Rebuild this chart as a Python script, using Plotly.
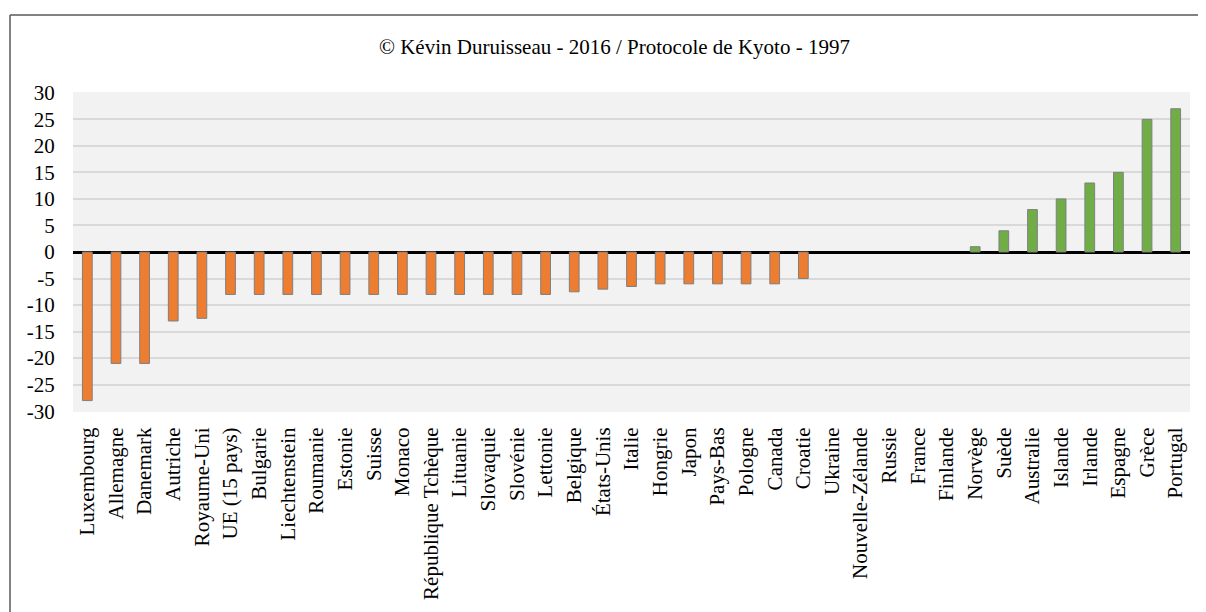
import plotly.graph_objects as go

countries = ["Luxembourg", "Allemagne", "Danemark", "Autriche", "Royaume-Uni", "UE (15 pays)",
             "Bulgarie", "Liechtenstein", "Roumanie", "Estonie", "Suisse", "Monaco",
             "République Tchèque", "Lituanie", "Slovaquie", "Slovénie", "Lettonie", "Belgique",
             "États-Unis", "Italie", "Hongrie", "Japon", "Pays-Bas", "Pologne", "Canada",
             "Croatie", "Ukraine", "Nouvelle-Zélande", "Russie", "France", "Finlande",
             "Norvège", "Suède", "Australie", "Islande", "Irlande", "Espagne", "Grèce", "Portugal"]
values = [-28, -21, -21, -13, -12.5, -8,
          -8, -8, -8, -8, -8, -8,
          -8, -8, -8, -8, -8, -7.5,
          -7, -6.5, -6, -6, -6, -6, -6,
          -5, 0, 0, 0, 0, 0,
          1, 4, 8, 10, 13, 15, 25, 27]
y_ticks = list(range(-30, 31, 5))
title_text = "© Kévin Duruisseau - 2016 / Protocole de Kyoto - 1997"

colors = ["#ed7d31" if v < 0 else "#70ad47" for v in values]
outline_w = [1 if v != 0 else 0 for v in values]

fig = go.Figure(go.Bar(
    x=countries, y=values,
    marker=dict(color=colors, line=dict(color="#7f7f7f", width=outline_w)),
    width=0.34,
))

# page has an 8px body margin: figure origin sits at (8, 8)
W, H = 1198, 604
L, R, T, B = 65, 16, 84, 200
pw, ph = W - L - R, H - T - B

def px(x):
    return (x - 8 - L) / pw

def py(y):
    return (H - B - (y - 8)) / ph

border = dict(color="#595959", width=1.5)
font_family = "Liberation Serif, Times New Roman, serif"
fig.update_layout(
    width=W, height=H,
    margin=dict(l=L, r=R, t=T, b=B),
    paper_bgcolor="white",
    plot_bgcolor="#f2f2f2",
    font=dict(family=font_family, size=21, color="black"),
    showlegend=False,
    annotations=[dict(text=title_text, xref="paper", yref="paper",
                      x=px(614), y=py(47),
                      xanchor="center", yanchor="middle", showarrow=False,
                      font=dict(family=font_family, size=21, color="black"))],
    shapes=[
        dict(type="line", xref="paper", yref="paper",
             x0=px(10), x1=px(1206), y0=py(15), y1=py(15), line=border, layer="below"),
        dict(type="line", xref="paper", yref="paper",
             x0=px(10), x1=px(10), y0=py(15), y1=py(612), line=border, layer="below"),
    ],
)
fig.update_xaxes(
    tickangle=-90, ticks="outside", ticklen=6, tickcolor="rgba(0,0,0,0)",
    showgrid=False, showline=False,
    tickfont=dict(family=font_family, size=21, color="black"),
)
fig.update_yaxes(
    range=[-30.15, 30.15], tickvals=y_ticks, ticktext=[str(t) for t in y_ticks],
    ticks="outside", ticklen=13, tickcolor="rgba(0,0,0,0)",
    showgrid=True, gridcolor="#d9d9d9", gridwidth=1.5,
    zeroline=True, zerolinecolor="black", zerolinewidth=3,
    tickfont=dict(family=font_family, size=21, color="black"),
)

fig.write_html("out.html")
